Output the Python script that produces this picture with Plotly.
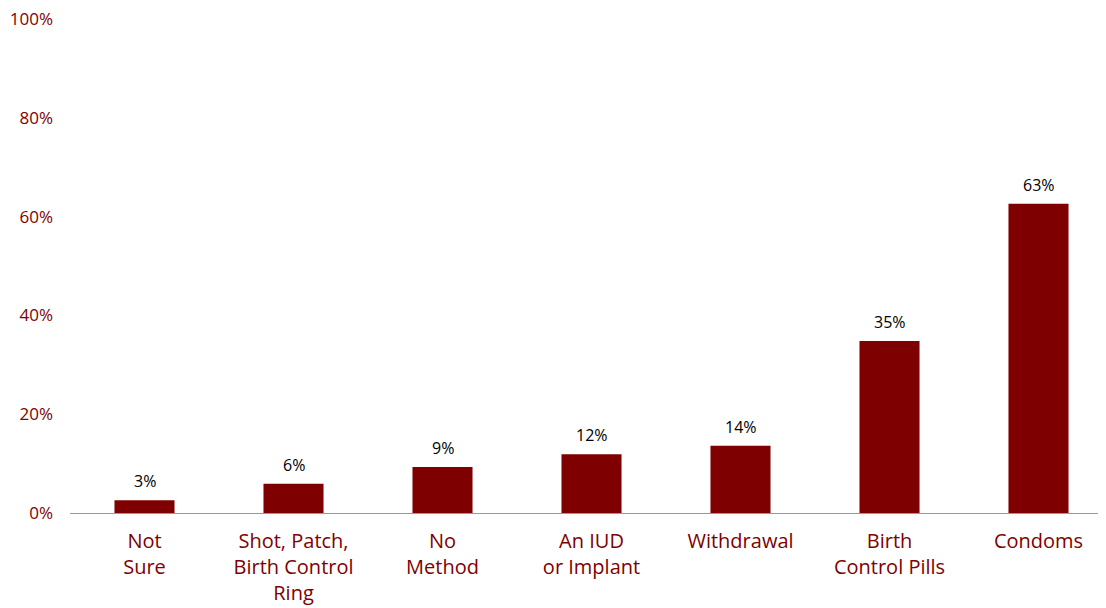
import plotly.graph_objects as go

categories = ["Not<br>Sure", "Shot, Patch,<br>Birth Control<br>Ring", "No<br>Method",
              "An IUD<br>or Implant", "Withdrawal", "Birth<br>Control Pills", "Condoms"]
values = [2.6, 5.9, 9.3, 11.9, 13.6, 34.8, 62.6]
value_labels = ["3%", "6%", "9%", "12%", "14%", "35%", "63%"]
y_ticks = [0, 20, 40, 60, 80, 100]
y_tick_labels = ["0%", "20%", "40%", "60%", "80%", "100%"]

MAROON = "#7f0000"
FONT = "Open Sans"

fig = go.Figure(go.Bar(
    x=categories, y=values,
    marker=dict(color=MAROON, line=dict(width=0)),
    hovertext=value_labels,
))

for c, v, t in zip(categories, values, value_labels):
    fig.add_annotation(
        x=c, y=v, text=t, showarrow=False, yanchor="bottom", yshift=6,
        font=dict(color="#000000", size=16, family=FONT),
    )

fig.update_layout(
    width=1098, height=600,
    margin=dict(l=62, r=0, t=11, b=95),
    paper_bgcolor="white", plot_bgcolor="white",
    bargap=0.597,
    showlegend=False,
    font=dict(family=FONT, color=MAROON),
)
fig.update_xaxes(
    range=[-0.5, 6.453],
    showline=True, linecolor="#999999", linewidth=1,
    showgrid=False, ticks="", tickfont=dict(size=20, color=MAROON, family=FONT),
    tickangle=0, ticklabelstandoff=10,
)
fig.update_yaxes(
    range=[0, 100], tickvals=y_ticks, ticktext=y_tick_labels,
    showgrid=False, zeroline=False, showline=False,
    tickfont=dict(size=17, color=MAROON, family=FONT),
    ticklabelstandoff=16, ticklabeloverflow="allow",
)

fig.write_html("out.html")
